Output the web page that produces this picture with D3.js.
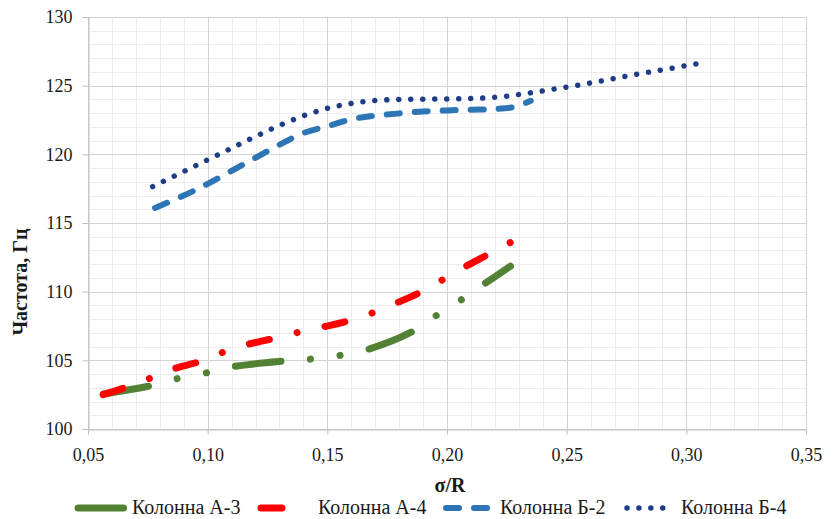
<!DOCTYPE html>
<html>
<head>
<meta charset="utf-8">
<script src="https://cdn.jsdelivr.net/npm/d3@7"></script>
<style>
  html, body { margin: 0; padding: 0; background: #fff; }
  svg { display: block; }
</style>
</head>
<body>
<svg id="chart" width="835" height="519"></svg>
<script>
// ---------- data ----------
const xTicks = [0.05, 0.10, 0.15, 0.20, 0.25, 0.30, 0.35];
const xTickLabels = ["0,05", "0,10", "0,15", "0,20", "0,25", "0,30", "0,35"];
const yTicks = [100, 105, 110, 115, 120, 125, 130];
const yTickLabels = ["100", "105", "110", "115", "120", "125", "130"];

const seriesNames = ["Колонна А-3", "Колонна А-4", "Колонна Б-2", "Колонна Б-4"];

const a3X = [0.0565, 0.0776, 0.088, 0.0997, 0.111, 0.132, 0.1436, 0.155, 0.167, 0.185, 0.195, 0.205, 0.215, 0.2265];
const a3Y = [102.55, 103.2, 103.7, 104.1, 104.55, 104.95, 105.1, 105.35, 105.8, 107.05, 108.2, 109.3, 110.5, 111.85];

const a4X = [0.0563, 0.0659, 0.0759, 0.0855, 0.0964, 0.1064, 0.1169, 0.1273, 0.1378, 0.1487, 0.1587, 0.1691, 0.1792, 0.188, 0.198, 0.2076, 0.216, 0.2265];
const a4Y = [102.5, 103.04, 103.69, 104.37, 104.9, 105.59, 106.17, 106.58, 107.04, 107.45, 107.87, 108.47, 109.2, 109.88, 110.85, 111.82, 112.6, 113.58];

const b2X = [0.078, 0.09, 0.10, 0.11, 0.12, 0.13, 0.14, 0.15, 0.16, 0.17, 0.18, 0.19, 0.20, 0.21, 0.22, 0.228, 0.235];
const b2Y = [116.1, 117.0, 117.85, 118.8, 119.75, 120.7, 121.55, 122.05, 122.55, 122.82, 122.98, 123.12, 123.2, 123.25, 123.3, 123.45, 123.9];

const b4X = [0.077, 0.09, 0.10, 0.11, 0.12, 0.13, 0.14, 0.15, 0.16, 0.17, 0.18, 0.19, 0.20, 0.21, 0.22, 0.23, 0.24, 0.25, 0.26, 0.27, 0.28, 0.29, 0.304];
const b4Y = [117.65, 118.75, 119.6, 120.45, 121.3, 122.1, 122.8, 123.35, 123.7, 123.92, 124.0, 124.02, 124.03, 124.07, 124.15, 124.35, 124.62, 124.9, 125.2, 125.52, 125.85, 126.15, 126.58];

// ---------- styles ----------
const styles = [
  { color: "#548235", width: 7,   dash: "45.5 29.8 0.01 29.8 0.01 29.8", legendLen: 55 },
  { color: "#FF0000", width: 7,   dash: "20.5 28.5 0.01 28.5",           legendLen: 28 },
  { color: "#2E75B6", width: 6,   dash: "13 15",                         legendLen: 47 },
  { color: "#1F3D87", width: 5.5, dash: "dots",                          legendLen: 50 }
];

(function () {
const W = 835, H = 519;
const pLeft = 88, pRight = 806, pTop = 17, pBottom = 429;
const font = "'Liberation Serif', 'DejaVu Serif', 'Noto Serif', Tinos, 'Times New Roman', Times, serif";

const svg = d3.select("#chart");
svg.append("rect").attr("width", W).attr("height", H).attr("fill", "#fff");

const x = d3.scaleLinear().domain([0.05, 0.35]).range([pLeft, pRight]);
const y = d3.scaleLinear().domain([100, 130]).range([pBottom, pTop]);

// minor grid
const minorX = d3.range(0, 31).map(i => 0.05 + i * 0.01);
const minorY = d3.range(0, 31).map(i => 100 + i);
const g = svg.append("g");
g.selectAll(".mx").data(minorX).enter().append("line")
  .attr("x1", d => Math.round(x(d)) + 0.5).attr("x2", d => Math.round(x(d)) + 0.5)
  .attr("y1", pTop).attr("y2", pBottom)
  .attr("stroke", "#ececec").attr("stroke-width", 1);
g.selectAll(".my").data(minorY).enter().append("line")
  .attr("y1", d => Math.round(y(d)) + 0.5).attr("y2", d => Math.round(y(d)) + 0.5)
  .attr("x1", pLeft).attr("x2", pRight)
  .attr("stroke", "#ececec").attr("stroke-width", 1);
// major grid
g.selectAll(".Mx").data(xTicks).enter().append("line")
  .attr("x1", d => Math.round(x(d)) + 0.5).attr("x2", d => Math.round(x(d)) + 0.5)
  .attr("y1", pTop).attr("y2", pBottom)
  .attr("stroke", "#d3d3d3").attr("stroke-width", 1);
g.selectAll(".My").data(yTicks).enter().append("line")
  .attr("y1", d => Math.round(y(d)) + 0.5).attr("y2", d => Math.round(y(d)) + 0.5)
  .attr("x1", pLeft).attr("x2", pRight)
  .attr("stroke", "#d3d3d3").attr("stroke-width", 1);

// axes
const xAxis = d3.axisBottom(x).tickValues(xTicks)
  .tickFormat((d, i) => xTickLabels[i]).tickSize(5).tickPadding(14);
const yAxis = d3.axisLeft(y).tickValues(yTicks)
  .tickFormat((d, i) => yTickLabels[i]).tickSize(6).tickPadding(10);

const gx = svg.append("g").attr("transform", `translate(0,${pBottom + 0.5})`).call(xAxis);
const gy = svg.append("g").attr("transform", `translate(${pLeft + 0.5},0)`).call(yAxis);
[gx, gy].forEach(a => {
  a.attr("font-family", null).attr("font-size", null);
  a.select(".domain").attr("stroke", "#bfbfbf");
  a.selectAll(".tick line").attr("stroke", "#bfbfbf");
  a.selectAll(".tick text").attr("fill", "#1a1a1a")
    .style("font-family", font).style("font-size", "18px");
});

// series
const xs = [a3X, a4X, b2X, b4X];
const ys = [a3Y, a4Y, b2Y, b4Y];
const line = d3.line().x(d => x(d[0])).y(d => y(d[1])).curve(d3.curveCatmullRom.alpha(0.5));
xs.forEach((xArr, i) => {
  const pts = xArr.map((v, j) => [v, ys[i][j]]);
  const p = svg.append("path").datum(pts)
    .attr("d", line)
    .attr("fill", "none")
    .attr("stroke", styles[i].color)
    .attr("stroke-width", styles[i].width)
    .attr("stroke-linecap", "round")
    .attr("stroke-linejoin", "round");
  let dash = styles[i].dash;
  if (dash === "dots") {
    const L = p.node().getTotalLength();
    const n = Math.round(L / 11.9);
    const per = (L - 0.2) / n;
    dash = "0.01 " + (per - 0.01);
  }
  p.attr("stroke-dasharray", dash);
});

// axis titles
svg.append("text")
  .attr("transform", `translate(27,282) rotate(-90)`)
  .attr("text-anchor", "middle")
  .style("font-family", font).style("font-size", "20px").style("font-weight", "bold")
  .attr("fill", "#1a1a1a")
  .text("Частота, Гц");
svg.append("text")
  .attr("x", 450).attr("y", 492)
  .attr("text-anchor", "middle")
  .style("font-family", font).style("font-size", "20px").style("font-weight", "bold")
  .attr("fill", "#1a1a1a")
  .text("σ/R");

// legend
const legendY = 508;
const legendStarts = [78, 261, 446, 627];
const textStarts = [132, 318, 500, 681];
seriesNames.forEach((name, i) => {
  const s = styles[i];
  const x0 = legendStarts[i];
  svg.append("line")
    .attr("x1", x0).attr("x2", x0 + s.legendLen - s.width)
    .attr("y1", legendY).attr("y2", legendY)
    .attr("stroke", s.color).attr("stroke-width", s.width)
    .attr("stroke-linecap", "round")
    .attr("stroke-dasharray", i === 1 ? null : (i === 3 ? "0.01 11.9" : s.dash));
  svg.append("text")
    .attr("x", textStarts[i]).attr("y", legendY + 6)
    .style("font-family", font).style("font-size", "20px")
    .attr("fill", "#1a1a1a")
    .text(name);
});
})();
</script>
</body>
</html>
